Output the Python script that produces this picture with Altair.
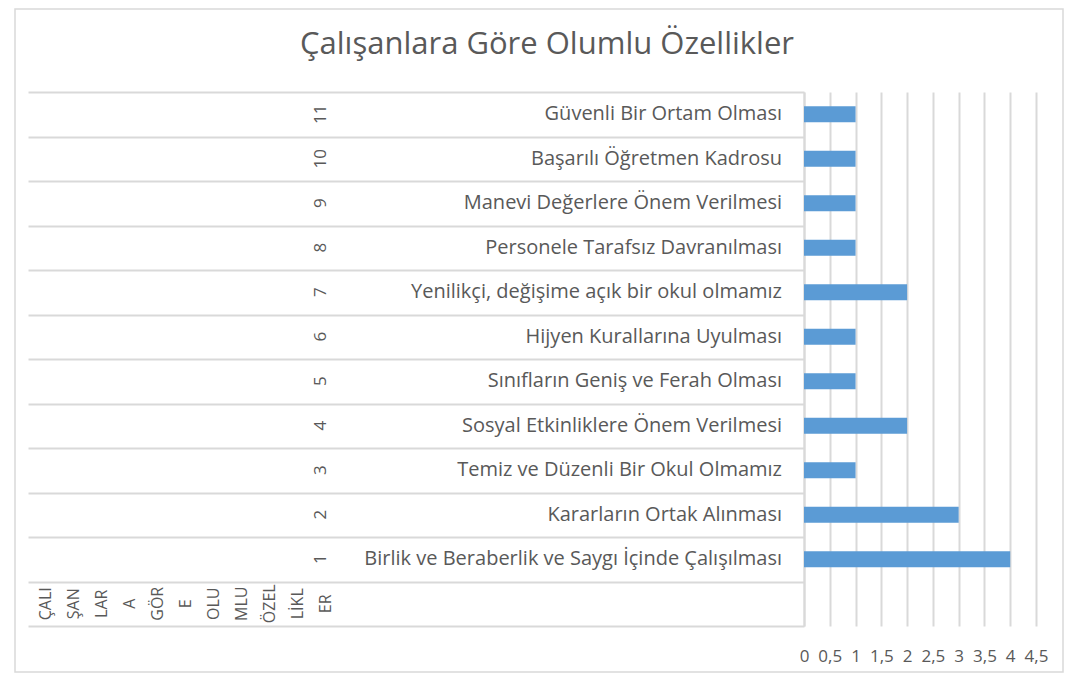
import altair as alt
import pandas as pd

TITLE = "Çalışanlara Göre Olumlu Özellikler"
NUMBERS = ["1", "2", "3", "4", "5", "6", "7", "8", "9", "10", "11"]
CATEGORIES = [
    "Birlik ve Beraberlik ve Saygı  İçinde Çalışılması",
    "Kararların Ortak Alınması",
    "Temiz ve Düzenli Bir Okul Olmamız",
    "Sosyal Etkinliklere Önem Verilmesi",
    "Sınıfların Geniş ve Ferah Olması",
    "Hijyen Kurallarına Uyulması",
    "Yenilikçi, değişime açık bir okul olmamız",
    "Personele Tarafsız Davranılması",
    "Manevi Değerlere Önem Verilmesi",
    "Başarılı Öğretmen Kadrosu",
    "Güvenli Bir Ortam Olması",
]
VALUES = [4, 3, 1, 2, 1, 1, 2, 1, 1, 1, 1]
GROUP_NAME = "ÇALIŞANLARA GÖRE OLUMLU ÖZELLİKLER"
GROUP_LABEL_LINES = ["ÇALI", "ŞAN", "LAR", "A", "GÖR", "E", "OLU", "MLU", "ÖZEL", "LİKL", "ER"]
X_TICKS = [0, 0.5, 1, 1.5, 2, 2.5, 3, 3.5, 4, 4.5]

FONT = "Open Sans"
TXT = "#595959"
GRID = "#d9d9d9"
BLUE = "#5b9bd5"

Y_DOMAIN = list(reversed(NUMBERS)) + [GROUP_NAME]

df = pd.DataFrame({"row": NUMBERS, "cat": CATEGORIES, "value": VALUES})
grp_df = pd.DataFrame({"row": [GROUP_NAME]})
one = pd.DataFrame({"t": [TITLE]})

y_scale = alt.Scale(domain=Y_DOMAIN, paddingInner=0, paddingOuter=0)

LEFT_W, RIGHT_W, H = 776, 232, 534

y_left = alt.Y("row:N", scale=y_scale,
               axis=alt.Axis(labels=False, ticks=False, domain=False, grid=True,
                             gridColor=GRID, gridWidth=2, tickBand="extent",
                             title=None, minExtent=0, maxExtent=0))

frame = alt.Chart(one).mark_rect(filled=False, stroke=GRID, strokeWidth=1.5).encode(
    x=alt.value(-13), x2=alt.value(1035), y=alt.value(-83), y2=alt.value(580)
)
title = alt.Chart(one).mark_text(font=FONT, fontSize=31, color=TXT, align="center",
                                 baseline="middle").encode(
    x=alt.value(519), y=alt.value(-47), text="t:N"
)
grid_layer = alt.Chart(df).mark_text(text="", opacity=0).encode(y=y_left)
nums = alt.Chart(df).mark_text(font=FONT, fontSize=17, color=TXT, angle=270,
                               align="center", baseline="middle").encode(
    y=y_left, x=alt.value(293), text="row:N"
)
cats = alt.Chart(df).mark_text(font=FONT, fontSize=20, color=TXT, align="right",
                               baseline="middle").encode(
    y=y_left, x=alt.value(754), text="cat:N"
)
grp = alt.Chart(grp_df).mark_text(text=GROUP_LABEL_LINES, font=FONT, fontSize=16,
                                  color=TXT, angle=270, lineHeight=28,
                                  align="center", baseline="middle").encode(
    y=y_left, x=alt.value(18)
)

left = alt.layer(frame, title, grid_layer, nums, cats, grp).properties(
    width=LEFT_W, height=H)

bars = alt.Chart(df).mark_bar(size=16, color=BLUE).encode(
    x=alt.X("value:Q", scale=alt.Scale(domain=[0, 4.5], nice=False, zero=True),
            axis=alt.Axis(values=X_TICKS, grid=True, gridColor=GRID, gridWidth=2,
                          domain=False, ticks=False, labelFont=FONT, labelFontSize=17,
                          labelColor=TXT, labelPadding=22, labelOverlap=False,
                          labelFlush=False,
                          labelExpr="replace(toString(datum.value), '.', ',')",
                          title=None)),
    y=alt.Y("row:N", scale=y_scale,
            axis=alt.Axis(labels=False, ticks=False, grid=False, domain=True,
                          domainColor=GRID, domainWidth=2, title=None,
                          minExtent=0, maxExtent=0)),
).properties(width=RIGHT_W, height=H)

chart = alt.hconcat(left, bars, spacing=0, bounds="flush").properties(
    padding={"left": 6, "top": 0, "right": 0, "bottom": 0}
).configure(background="white").configure_view(stroke=None)

chart.save("out.html", embed_options={"renderer": "svg", "actions": False})
